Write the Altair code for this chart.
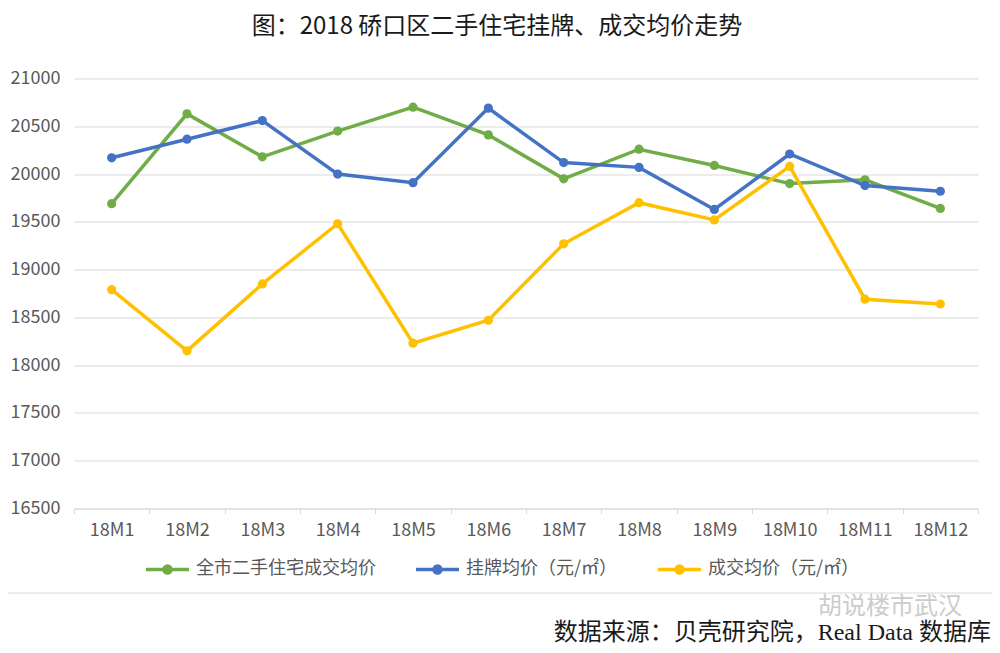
import altair as alt
import pandas as pd

months = [f"18M{i}" for i in range(1, 13)]
city_avg = [19690, 20630, 20180, 20450, 20700, 20410, 19950, 20260, 20090, 19900, 19940, 19640]
listing_avg = [20170, 20365, 20560, 20000, 19910, 20690, 20120, 20070, 19630, 20210, 19880, 19820]
deal_avg = [18790, 18150, 18850, 19480, 18230, 18470, 19270, 19700, 19520, 20080, 18690, 18640]
series_names = ["全市二手住宅成交均价", "挂牌均价（元/㎡）", "成交均价（元/㎡）"]
colors = ["#70AD47", "#4472C4", "#FFC000"]
y_ticks = list(range(16500, 21001, 500))
title_text = "图：2018 硚口区二手住宅挂牌、成交均价走势"
source_text = "数据来源：贝壳研究院，Real Data 数据库"
watermark_text = "胡说楼市武汉"

rows = []
for name, vals in zip(series_names, [city_avg, listing_avg, deal_avg]):
    for m, v in zip(months, vals):
        rows.append({"month": m, "value": v, "series": name})
df = pd.DataFrame(rows)

FONT = "Noto Sans CJK SC"
W, H = 904, 430

sym = ("M-1,0H1"
       "M0.163,0A0.163,0.163 0 1,1 -0.163,0A0.163,0.163 0 1,1 0.163,0"
       "M0.07,0A0.07,0.07 0 1,1 -0.07,0A0.07,0.07 0 1,1 0.07,0")

lines = alt.Chart(df).mark_line(
    strokeWidth=3.5,
    point=alt.OverlayMarkDef(filled=True, size=85),
).encode(
    x=alt.X("month:N", sort=months,
            scale=alt.Scale(type="band", paddingInner=0, paddingOuter=0),
            bandPosition=0.5,
            axis=alt.Axis(title=None, labelAngle=0, tickBand="extent",
                          domainColor="#d9d9d9", tickColor="#d9d9d9", tickSize=5,
                          labelPadding=8, grid=False)),
    y=alt.Y("value:Q",
            scale=alt.Scale(domain=[16500, 21000], nice=False, zero=False),
            axis=alt.Axis(title=None, values=y_ticks, domain=False, ticks=False,
                          gridColor="#d9d9d9", gridWidth=1, labelPadding=14, format="d")),
    color=alt.Color("series:N",
                    scale=alt.Scale(domain=series_names, range=colors),
                    legend=alt.Legend(title=None, orient="none", legendX=70, legendY=467,
                                      direction="horizontal", symbolType=sym,
                                      symbolSize=1849, symbolStrokeWidth=3.5,
                                      labelFontSize=18, labelFont=FONT, labelColor="#595959",
                                      labelLimit=0,
                                      columnPadding=33, labelOffset=5, padding=0)),
)

title = alt.Chart(pd.DataFrame({"t": [title_text]})).mark_text(
    font=FONT, fontSize=24, color="#1a1a1a", align="center", baseline="middle"
).encode(text="t:N", x=alt.value(423), y=alt.value(-52))

source = alt.Chart(pd.DataFrame({"t": [source_text]})).mark_text(
    font="Liberation Serif, " + FONT, fontSize=24, color="#1a1a1a", align="right", baseline="middle"
).encode(text="t:N", x=alt.value(917), y=alt.value(554))

watermark = alt.Chart(pd.DataFrame({"t": [watermark_text]})).mark_text(
    font=FONT, fontSize=24, color="#cccccc", align="left", baseline="middle"
).encode(text="t:N", x=alt.value(744), y=alt.value(528))

frame = alt.Chart(pd.DataFrame({"a": [0]})).mark_rule(color="#d9d9d9", strokeWidth=1).encode(
    x=alt.value(-74), x2=alt.value(926), y=alt.value(514.5)
)

chart = alt.layer(lines, frame, watermark, title, source).properties(
    width=W, height=H,
    autosize=alt.AutoSizeParams(type="none"),
    padding={"left": 66, "top": 70.5, "right": 14, "bottom": 136},
).configure_view(stroke=None).configure_axis(
    labelFont=FONT, labelFontSize=18, labelColor="#595959"
)

chart.save("out.html", embed_options={"renderer": "svg", "actions": False})
